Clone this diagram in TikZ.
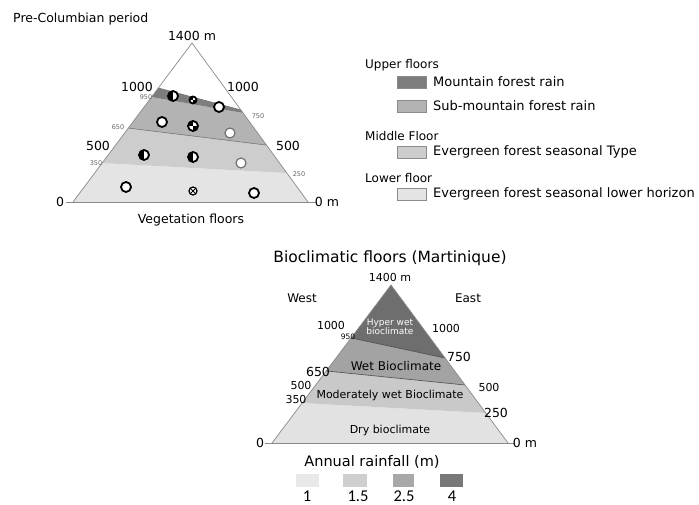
\documentclass[tikz,border=0pt]{standalone}
\usepackage{fontspec}
\setmainfont{DejaVu Sans}
\newfontfamily\numfont{Carlito}
\usetikzlibrary{calc}
\definecolor{vdark}{HTML}{7D7D7D}
\definecolor{vsub}{HTML}{B3B3B3}
\definecolor{vmid}{HTML}{CDCDCD}
\definecolor{vlow}{HTML}{E4E4E4}
\definecolor{bhyper}{HTML}{6E6E6E}
\definecolor{bwet}{HTML}{A3A3A3}
\definecolor{bmod}{HTML}{C9C9C9}
\definecolor{bdry}{HTML}{E2E2E2}
\definecolor{edgegray}{HTML}{8A8A8A}
\tikzset{
  lbl/.style={font=\fontsize{12.5}{14}\selectfont, inner sep=1pt},
  tiny/.style={font=\fontsize{6.5}{7}\selectfont, text=black!60, inner sep=0.5pt},
  small/.style={font=\fontsize{11}{12}\selectfont, inner sep=0.5pt},
  legtext/.style={font=\fontsize{13}{15}\selectfont, anchor=west, inner sep=1pt},
  leghead/.style={font=\fontsize{12}{14}\selectfont, anchor=west, inner sep=1pt},
  legbox/.style={draw=black!45, minimum width=29pt, minimum height=12pt, inner sep=0pt},
  swatch/.style={minimum height=13pt, inner sep=0pt},
  rainnum/.style={font=\numfont\fontsize{16.5}{18}\selectfont, anchor=base, inner sep=0pt},
  edge/.style={draw=edgegray, line width=0.7pt},
  floorline/.style={draw=black!55, line width=0.6pt},
}
\begin{document}
\begin{tikzpicture}[
    x=1pt, y=-1pt,
    ring/.style={circle, draw=black, line width=1.8pt, fill=white, minimum size=10pt, inner sep=0pt},
    pale/.style={ring, draw=black!55, line width=1.2pt},
    halfdot/.style={ring, path picture={\fill[black] (path picture bounding box.north) rectangle (path picture bounding box.south west);}},
    quartdot/.style={ring, path picture={\fill[black] (path picture bounding box.center) rectangle (path picture bounding box.north west);
      \fill[black] (path picture bounding box.center) rectangle (path picture bounding box.south east);}},
    crossdot/.style={ring, minimum size=8pt, line width=1.2pt, path picture={\draw[black, line width=0.9pt] (path picture bounding box.north west) -- (path picture bounding box.south east)
      (path picture bounding box.north east) -- (path picture bounding box.south west);}}
  ]
  \useasboundingbox[fill=white] (0,0) rectangle (699,505);

  % Pre-Columbian triangle
  \coordinate (tA) at (192,43);
  \coordinate (tL) at (73,202);
  \coordinate (tR) at (308,202);
  \coordinate (l1) at ($(tA)!0.283!(tL)$);
  \coordinate (r1) at ($(tA)!0.421!(tR)$);
  \coordinate (l2) at ($(tA)!0.34!(tL)$);
  \coordinate (r2) at ($(tA)!0.44!(tR)$);
  \coordinate (l3) at ($(tA)!0.535!(tL)$);
  \coordinate (r3) at ($(tA)!0.642!(tR)$);
  \coordinate (l4) at ($(tA)!0.755!(tL)$);
  \coordinate (r4) at ($(tA)!0.818!(tR)$);
  \fill[vlow] (l4) -- (tL) -- (tR) -- (r4) -- cycle;
  \fill[vmid] (l3) -- (l4) -- (r4) -- (r3) -- cycle;
  \fill[vsub] (l2) -- (l3) -- (r3) -- (r2) -- cycle;
  \fill[vdark] (l1) -- (l2) -- (r2) -- (r1) -- cycle;
  \draw[floorline] (l1) -- (r1);
  \draw[floorline] (l3) -- (r3);
  \draw[edge] (tL) -- (tA) -- (tR);
  \coordinate (t0) at (66,202);
  \coordinate (t0m) at (316,202);
  \draw[edge] (t0) -- (t0m);

  \node[font=\fontsize{12.5}{14}\selectfont, anchor=west, inner sep=1pt] (pre) at (12,19) {Pre-Columbian period};
  \node[lbl] (t1400) at (192,36) {1400 m};
  \node[lbl] (t1000l) at (137,87) {1000};
  \node[lbl] (t1000r) at (243,87) {1000};
  \node[tiny] (t950) at (146,97) {950};
  \node[tiny] (t750) at (258,116) {750};
  \node[tiny] (t650) at (118,127) {650};
  \node[lbl] (t500l) at (98,146) {500};
  \node[lbl] (t500r) at (288,146) {500};
  \node[tiny] (t350) at (96,163) {350};
  \node[tiny] (t250) at (299,174) {250};
  \node[lbl] (t0l) at (60,202) {0};
  \node[lbl] (t0r) at (327,202) {0 m};
  \node[lbl] (vegfl) at (191,220) {Vegetation floors};

  % Plots
  \node[halfdot] (p1) at (173,96) {};
  \node[quartdot, minimum size=7pt] (p2) at (193,100) {};
  \node[ring] (p3) at (219,107) {};
  \node[ring] (p4) at (162,122) {};
  \node[quartdot] (p5) at (193,126) {};
  \node[pale] (p6) at (230,133) {};
  \node[halfdot, rotate=90] (p7) at (144,155) {};
  \node[halfdot] (p8) at (193,157) {};
  \node[pale] (p9) at (241,163) {};
  \node[ring] (p10) at (126,187) {};
  \node[crossdot] (p11) at (193,191) {};
  \node[ring] (p12) at (254,193) {};

  % Legend
  \node[leghead] (upper) at (364,65) {Upper floors};
  \node[legbox, fill=vdark] (bx1) at (412,82) {};
  \node[legtext] (lg1) at (432,82) {Mountain forest rain};
  \node[legbox, fill=vsub] (bx2) at (412,106) {};
  \node[legtext] (lg2) at (432,106) {Sub-mountain forest rain};
  \node[leghead] (middle) at (364,136) {Middle Floor};
  \node[legbox, fill=vmid] (bx3) at (412,152) {};
  \node[legtext] (lg3) at (432,152) {Evergreen forest seasonal Type};
  \node[leghead] (lower) at (364,178) {Lower floor};
  \node[legbox, fill=vlow] (bx4) at (412,194) {};
  \node[legtext] (lg4) at (432,194) {Evergreen forest seasonal lower horizon};

  % Biodimatic triangle
  \coordinate (bA) at (391,285);
  \coordinate (bL) at (272,443);
  \coordinate (bR) at (508,443);
  \coordinate (m1) at ($(bA)!0.335!(bL)$);
  \coordinate (n1) at ($(bA)!0.462!(bR)$);
  \coordinate (m2) at ($(bA)!0.544!(bL)$);
  \coordinate (n2) at ($(bA)!0.633!(bR)$);
  \coordinate (m3) at ($(bA)!0.747!(bL)$);
  \coordinate (n3) at ($(bA)!0.81!(bR)$);
  \fill[bdry] (m3) -- (bL) -- (bR) -- (n3) -- cycle;
  \fill[bmod] (m2) -- (m3) -- (n3) -- (n2) -- cycle;
  \fill[bwet] (m1) -- (m2) -- (n2) -- (n1) -- cycle;
  \fill[bhyper] (bA) -- (m1) -- (n1) -- cycle;
  \draw[floorline, draw=black!70] (m1) -- (n1);
  \draw[floorline, draw=black!70] (m2) -- (n2);
  \draw[edge] (bL) -- (bA) -- (bR);
  \coordinate (b0) at (265,443);
  \coordinate (b0m) at (515,443);
  \draw[edge] (b0) -- (b0m);

  \node[font=\fontsize{15.5}{17}\selectfont, inner sep=1pt] (title) at (390,258) {Bioclimatic floors (Martinique)};
  \node[small] (b1400) at (390,277) {1400 m};
  \node[lbl, font=\fontsize{12}{13}\selectfont] (west) at (302,298) {West};
  \node[lbl, font=\fontsize{12}{13}\selectfont] (east) at (468,298) {East};
  \node[small] (b1000l) at (331,325) {1000};
  \node[tiny, text=black, font=\fontsize{7.5}{8}\selectfont, inner sep=0pt] (b950) at (348,337) {950};
  \node[small] (b1000r) at (446,328) {1000};
  \node[font=\fontsize{9}{9.5}\selectfont, text=white, align=center, inner sep=0pt] (hyper) at (390,327) {Hyper wet\\bioclimate};
  \node[lbl] (b750) at (459,357) {750};
  \node[lbl] (b650) at (318,372) {650};
  \node[font=\fontsize{12}{13}\selectfont, inner sep=0.5pt] (wet) at (396,366) {Wet Bioclimate};
  \node[small] (b500l) at (301,385) {500};
  \node[small] (b500r) at (489,387) {500};
  \node[font=\fontsize{11}{12}\selectfont, inner sep=0.5pt] (moder) at (390,395) {Moderately wet Bioclimate};
  \node[small] (b350) at (296,399) {350};
  \node[lbl] (b250) at (496,413) {250};
  \node[font=\fontsize{11}{12}\selectfont, inner sep=0.5pt] (dry) at (390,430) {Dry bioclimate};
  \node[lbl] (b0l) at (260,443) {0};
  \node[lbl] (b0r) at (525,443) {0 m};

  % Annual rainfall
  \node[font=\fontsize{14.5}{16}\selectfont, inner sep=1pt] (rain) at (372,462) {Annual rainfall (m)};
  \node[swatch, minimum width=23pt, fill=black!9] (s1) at (307,480) {};
  \node[swatch, minimum width=24pt, fill=black!19] (s2) at (355,480) {};
  \node[swatch, minimum width=21pt, fill=black!34] (s3) at (403,480) {};
  \node[swatch, minimum width=23pt, fill=black!53] (s4) at (451,480) {};
  \node[rainnum] (v1) at (307,501) {1};
  \node[rainnum] (v2) at (358,501) {1.5};
  \node[rainnum] (v3) at (404,501) {2.5};
  \node[rainnum] (v4) at (452,501) {4};
\end{tikzpicture}
\end{document}
